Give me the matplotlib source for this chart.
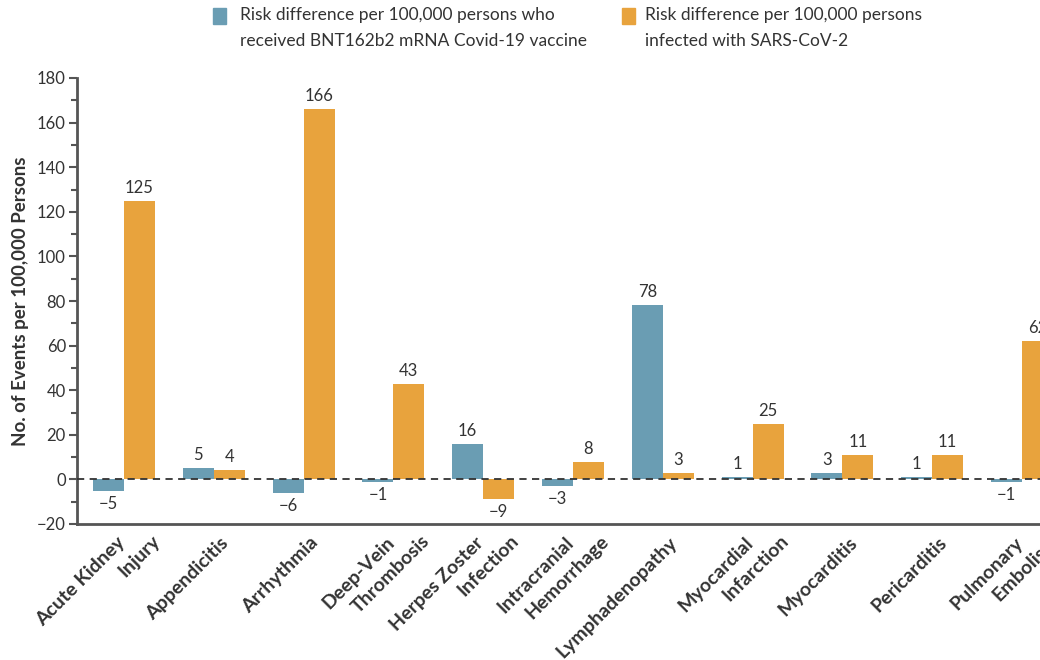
import matplotlib.pyplot as plt
from matplotlib.patches import Rectangle
from matplotlib.ticker import MultipleLocator

plt.rcParams["font.family"] = ["Lato", "DejaVu Sans"]

categories = [
    "Acute Kidney\nInjury", "Appendicitis", "Arrhythmia", "Deep-Vein\nThrombosis",
    "Herpes Zoster\nInfection", "Intracranial\nHemorrhage", "Lymphadenopathy",
    "Myocardial\nInfarction", "Myocarditis", "Pericarditis", "Pulmonary\nEmbolism",
]
vaccine = [-5, 5, -6, -1, 16, -3, 78, 1, 3, 1, -1]
infection = [125, 4, 166, 43, -9, 8, 3, 25, 11, 11, 62]

legend_labels = [
    "Risk difference per 100,000 persons who\nreceived BNT162b2 mRNA Covid-19 vaccine",
    "Risk difference per 100,000 persons\ninfected with SARS-CoV-2",
]

BLUE = "#6a9db3"
ORANGE = "#e8a33d"
AXIS = "#555555"
TXT = "#333333"


def fmt(v):
    return f"\u2212{abs(v)}" if v < 0 else str(v)


def main():
    fig = plt.figure(figsize=(10.4, 6.6), dpi=100)
    ax = fig.add_axes([77 / 1040, 1 - 524 / 660, 1 - 77 / 1040, (524 - 78) / 660])

    w = 0.345
    x = list(range(len(categories)))
    ax.bar([i - w / 2 for i in x], vaccine, width=w, color=BLUE, zorder=2)
    ax.bar([i + w / 2 for i in x], infection, width=w, color=ORANGE, zorder=2)
    ax.axhline(0, color="#333333", lw=1.3, linestyle=(0, (4, 3)), zorder=3)

    # value labels
    for i in x:
        for v, dx in ((vaccine[i], -w / 2), (infection[i], w / 2)):
            if v >= 0:
                ax.annotate(fmt(v), (i + dx, v), xytext=(0, 5), textcoords="offset pixels",
                            ha="center", va="bottom", fontsize=12, color=TXT)
            else:
                ax.annotate(fmt(v), (i + dx, v), xytext=(0, -5), textcoords="offset pixels",
                            ha="center", va="top", fontsize=12, color=TXT)

    ax.set_xlim(-0.523, (1040 - 124) / 89.8)
    ax.set_ylim(-20, 180)
    ax.yaxis.set_major_locator(MultipleLocator(20))
    ax.yaxis.set_minor_locator(MultipleLocator(10))
    ax.set_xticks(x)
    ax.set_xticklabels([])
    ax.tick_params(axis="x", length=0)
    ax.tick_params(axis="y", which="major", length=6, width=1.5, color=AXIS,
                   labelsize=12, labelcolor=TXT, pad=2)
    ax.tick_params(axis="y", which="minor", length=4, width=1.5, color=AXIS)
    for s in ("top", "right"):
        ax.spines[s].set_visible(False)
    for s in ("left", "bottom"):
        ax.spines[s].set_color(AXIS)
        ax.spines[s].set_linewidth(2)

    ax.set_ylabel("No. of Events per 100,000 Persons", fontsize=13.5, fontweight="bold",
                  color=TXT, labelpad=6)

    # category labels, rotated; second line sits below and a bit further along
    for i, lab in enumerate(categories):
        lines = lab.split("\n")
        offsets = [(6, -10)] if len(lines) == 1 else [(-8, -10), (27, -8)]
        for line, (dx, dy) in zip(lines, offsets):
            ax.annotate(line, (i, 0), xycoords=("data", "axes fraction"),
                        xytext=(dx, dy), textcoords="offset pixels",
                        rotation=45, rotation_mode="anchor", ha="right", va="top",
                        fontsize=14, fontweight="bold", color=TXT, annotation_clip=False)

    # legend across the top
    for (sx, tx), col, lab in zip(((213, 240), (622, 645)), (BLUE, ORANGE), legend_labels):
        fig.add_artist(Rectangle((sx / 1040, 1 - 24 / 660), 13 / 1040, 16 / 660,
                                 transform=fig.transFigure, color=col))
        fig.text(tx / 1040, 1 - 7 / 660, lab, ha="left", va="top", fontsize=12.5,
                 color=TXT, linespacing=1.75)

    fig.savefig("out.png", dpi=100)


if __name__ == "__main__":
    main()
